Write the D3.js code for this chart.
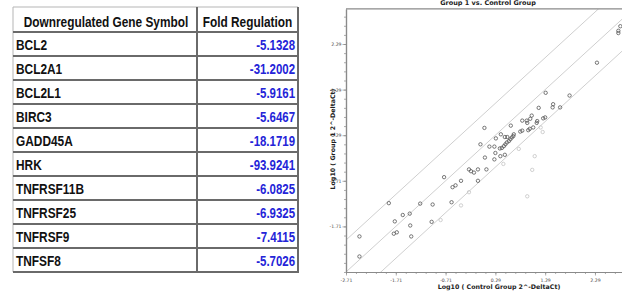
<!DOCTYPE html>
<html>
<head>
<meta charset="utf-8">
<script src="https://cdn.jsdelivr.net/npm/d3@7"></script>
<style>
  html, body { margin: 0; padding: 0; background: #fff; }
  svg { display: block; }
</style>
</head>
<body>
<svg id="chart" width="622" height="294"></svg>
<script>
// ---------- Table data ----------
const genes = ["BCL2", "BCL2A1", "BCL2L1", "BIRC3", "GADD45A", "HRK", "TNFRSF11B", "TNFRSF25", "TNFRSF9", "TNFSF8"];
const foldRegulation = [-5.1328, -31.2002, -5.9161, -5.6467, -18.1719, -93.9241, -6.0825, -6.9325, -7.4115, -5.7026];
const headers = ["Downregulated Gene Symbol", "Fold Regulation"];

// ---------- Scatter data (log10 2^-DeltaCt) ----------
const tickValues = [-2.71, -1.71, -0.71, 0.29, 1.29, 2.29];
const foldBoundary = 0.7; // log10 of the fold-change cut-off lines

const unchangedControl = [-2.44, -2.44, -1.85, -1.73, -1.57, -1.43, -1.42, -1.75, -1.69, -1.40,
  -1.22, -0.97, -0.99, -0.74, -0.59, -0.57, -0.51, -0.40, -0.24, -0.20,
  -0.14, -0.06, -0.06, 0.11, 0.08, -0.01, 0.17, 0.27, 0.29, 0.27,
  0.39, 0.48, 0.38, 0.07, 0.30, 0.40, 0.60, 0.48, 0.53, 0.66,
  0.42, 0.46, 0.49, 0.52, 0.56, 0.59, 0.62, 0.65, 0.79, 0.83,
  0.83, 0.92, 0.93, 0.99, 1.02, 0.95, 0.98, 1.05, 1.16, 1.13,
  1.12, 1.25, 1.29, 1.30, 1.45, 1.44, 1.59, 1.78, 2.33, 2.80,
  2.76, 2.76];
const unchangedGroup1 = [-1.93, -2.37, -1.20, -1.60, -1.46, -1.43, -1.69, -1.87, -1.84, -1.93,
  -1.21, -1.23, -1.61, -0.63, -1.18, -0.85, -0.81, -0.71, -0.46, -0.50,
  -0.53, -0.46, -0.71, -0.46, -0.20, 0.09, 0.04, 0.04, -0.10, -0.24,
  -0.17, -0.14, 0.00, 0.45, 0.22, 0.31, 0.50, 0.25, 0.25, 0.31,
  0.01, 0.05, 0.09, 0.13, 0.16, 0.20, 0.24, 0.27, 0.37, 0.39,
  0.61, 0.61, 0.56, 0.65, 0.72, 0.40, 0.43, 0.46, 0.89, 0.60,
  0.56, 0.66, 0.68, 1.22, 0.97, 0.90, 0.90, 1.16, 1.88, 2.68,
  2.58, 2.53];
const downControl = [-0.81, -0.40, -0.24, 0.45, 0.76, 0.93, 1.03, 1.08, 1.20, 1.24];
const downGroup1  = [-1.57, -1.25, -0.96, -0.34, -0.01, -1.05, -0.47, -0.17, 0.46, 0.36];

const svg = d3.select("#chart");

// ================= TABLE =================
const tableLeft = 13, tableRight = 298, colDiv = 197, tableTop = 7, headerBottom = 32, tableBottom = 272;
const rowScale = d3.scaleBand().domain(genes).range([headerBottom, tableBottom]);
const tableFont = "'Liberation Sans', Arial, sans-serif";

const table = svg.append("g").attr("class", "table");

// a text condensed horizontally (emulating a narrow face) around its anchor point
function narrowText(parent, xPos, yPos, factor, anchor) {
  return parent.append("g")
    .attr("transform", `translate(${xPos},${yPos}) scale(${factor},1)`)
    .append("text")
    .attr("x", 0).attr("y", 0)
    .attr("text-anchor", anchor)
    .attr("font-family", tableFont).attr("font-weight", "bold");
}

// header text
narrowText(table, (tableLeft + colDiv) / 2 + 1, 26.5, 0.79, "middle")
  .attr("font-size", 15).attr("fill", "#111").text(headers[0]);
narrowText(table, (colDiv + tableRight) / 2, 26.5, 0.79, "middle")
  .attr("font-size", 15).attr("fill", "#111").text(headers[1]);

// rows
genes.forEach((g, i) => {
  const yb = rowScale(g) + rowScale.bandwidth() / 2 + 5.5;
  narrowText(table, tableLeft + 3, yb, 0.82, "start")
    .attr("font-size", 14.5).attr("fill", "#111").text(g);
  narrowText(table, tableRight - 3, yb, 0.79, "end")
    .attr("font-size", 14.5).attr("fill", "#2424d8")
    .text(d3.format(".4f")(foldRegulation[i]).replace("−", "-"));
});

// grid lines
const lineColor = "#6a6a6a";
table.append("line").attr("x1", tableLeft).attr("x2", tableRight).attr("y1", tableTop).attr("y2", tableTop)
  .attr("stroke", "#b5b5b5").attr("stroke-width", 1);
table.append("line").attr("x1", tableLeft).attr("x2", tableLeft).attr("y1", tableTop).attr("y2", tableBottom)
  .attr("stroke", "#b5b5b5").attr("stroke-width", 1);
table.selectAll("line.h").data(genes.concat(["__end"])).join("line").attr("class", "h")
  .attr("x1", tableLeft).attr("x2", tableRight + 1)
  .attr("y1", d => d === "__end" ? tableBottom : rowScale(d))
  .attr("y2", d => d === "__end" ? tableBottom : rowScale(d))
  .attr("stroke", lineColor).attr("stroke-width", 2);
table.append("line").attr("x1", colDiv).attr("x2", colDiv).attr("y1", tableTop).attr("y2", tableBottom)
  .attr("stroke", lineColor).attr("stroke-width", 2);
table.append("line").attr("x1", tableRight).attr("x2", tableRight).attr("y1", tableTop).attr("y2", tableBottom + 1)
  .attr("stroke", lineColor).attr("stroke-width", 2);

// ================= SCATTER =================
const x = d3.scaleLinear().domain([-2.71, 3.06]).range([346, 633.3]);
const y = d3.scaleLinear().domain([-2.71, 3.06]).range([272, 8.9]);
const plotFont = "'DejaVu Sans', sans-serif";

const plot = svg.append("g").attr("class", "plot");

svg.append("defs").append("clipPath").attr("id", "plotClip")
  .append("rect")
  .attr("x", x.range()[0]).attr("y", y.range()[1])
  .attr("width", x.range()[1] - x.range()[0]).attr("height", y.range()[0] - y.range()[1]);

// title
plot.append("text")
  .attr("x", 488).attr("y", 5)
  .attr("text-anchor", "middle")
  .attr("font-family", plotFont).attr("font-weight", "bold").attr("font-size", 6.5)
  .attr("fill", "#222")
  .text("Group 1 vs. Control Group");

// boundary lines
const lineG = plot.append("g").attr("clip-path", "url(#plotClip)");
[foldBoundary, 0, -foldBoundary].forEach(off => {
  const d0 = x.domain()[0] - 1, d1 = x.domain()[1] + 1;
  lineG.append("line")
    .attr("x1", x(d0)).attr("y1", y(d0 + off))
    .attr("x2", x(d1)).attr("y2", y(d1 + off))
    .attr("stroke", "#cfcfcf").attr("stroke-width", 1);
});

// frame top
plot.append("line")
  .attr("x1", x.range()[0]).attr("x2", x.range()[1])
  .attr("y1", y.range()[1]).attr("y2", y.range()[1])
  .attr("stroke", "#8a8a8a").attr("stroke-width", 1.2);

// minor ticks
const minorTicks = d3.range(-2.71, 3.06, 0.2);
const xMinor = plot.append("g").attr("transform", `translate(0,${y.range()[0]})`)
  .call(d3.axisBottom(x).tickValues(minorTicks).tickSize(2).tickSizeOuter(0).tickFormat(""));
const yMinor = plot.append("g").attr("transform", `translate(${x.range()[0]},0)`)
  .call(d3.axisLeft(y).tickValues(minorTicks).tickSize(2).tickSizeOuter(0).tickFormat(""));

// major axes
const fmt = d3.format(".2f");
const xAxis = plot.append("g").attr("transform", `translate(0,${y.range()[0]})`)
  .call(d3.axisBottom(x).tickValues(tickValues).tickSize(3.5).tickSizeOuter(0).tickPadding(3.5)
    .tickFormat(d => fmt(d).replace("−", "-")));
const yAxis = plot.append("g").attr("transform", `translate(${x.range()[0]},0)`)
  .call(d3.axisLeft(y).tickValues(tickValues.slice(1)).tickSize(3.5).tickSizeOuter(0).tickPadding(1)
    .tickFormat(d => fmt(d).replace("−", "-")));

[xMinor, yMinor, xAxis, yAxis].forEach(g => {
  g.selectAll(".domain").attr("stroke", "#8a8a8a").attr("stroke-width", 1.2);
  g.selectAll(".tick line").attr("stroke", "#8a8a8a").attr("stroke-width", 0.7);
  g.selectAll(".tick text").attr("font-family", plotFont).attr("font-size", 4.6).attr("fill", "#444");
});

// axis titles
plot.append("text")
  .attr("x", 499).attr("y", 289)
  .attr("text-anchor", "middle")
  .attr("font-family", plotFont).attr("font-weight", "bold").attr("font-size", 6.3)
  .attr("fill", "#222")
  .text("Log10 ( Control Group 2^-DeltaCt)");
plot.append("text")
  .attr("transform", "translate(335,139) rotate(-90)")
  .attr("text-anchor", "middle")
  .attr("font-family", plotFont).attr("font-weight", "bold").attr("font-size", 6.3)
  .attr("fill", "#222")
  .text("Log10 ( Group 1 2^-DeltaCt)");

// points
const pts = plot.append("g").attr("clip-path", "url(#plotClip)");
pts.selectAll("circle.down").data(downControl).join("circle").attr("class", "down")
  .attr("cx", d => x(d)).attr("cy", (d, i) => y(downGroup1[i])).attr("r", 1.7)
  .attr("fill", "none").attr("stroke", "#c4c4c4").attr("stroke-width", 0.8);
pts.selectAll("circle.same").data(unchangedControl).join("circle").attr("class", "same")
  .attr("cx", d => x(d)).attr("cy", (d, i) => y(unchangedGroup1[i])).attr("r", 1.7)
  .attr("fill", "none").attr("stroke", "#555").attr("stroke-width", 0.8);
</script>
</body>
</html>
